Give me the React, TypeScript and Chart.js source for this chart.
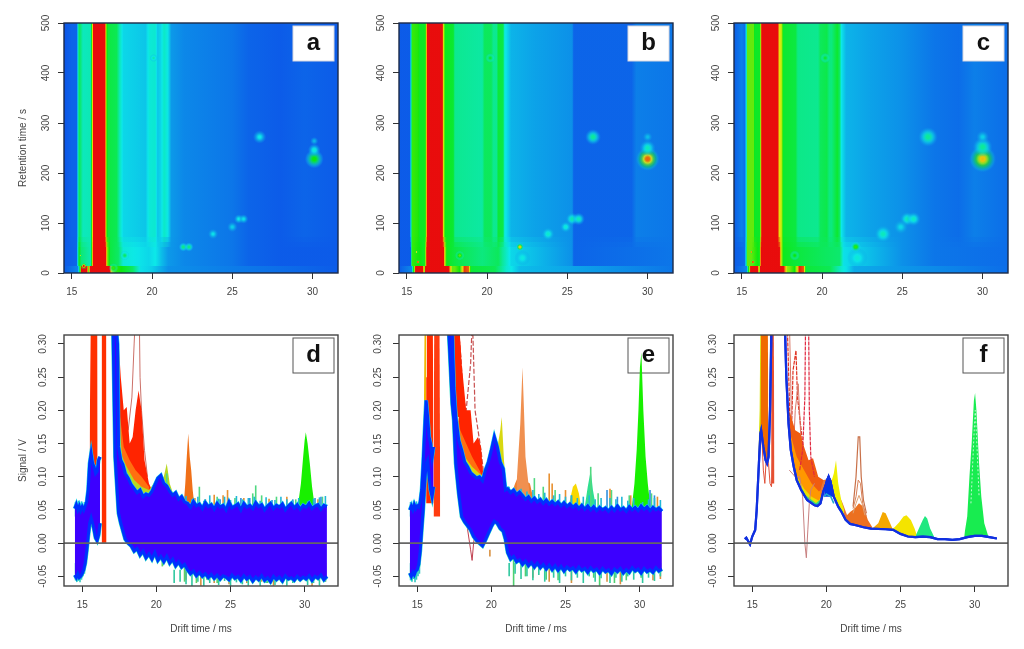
import { useEffect, useRef } from 'react';
import { Chart, registerables } from 'chart.js';

Chart.register(...registerables);
Chart.defaults.font.family = '"Liberation Sans", Arial, sans-serif';
Chart.defaults.font.size = 10;
Chart.defaults.color = '#444';

const retentionTicks = [0, 100, 200, 300, 400, 500];
const driftTicks = [15, 20, 25, 30];
const signalTicks = [-0.05, 0, 0.05, 0.1, 0.15, 0.2, 0.25, 0.3];

// heat map columns: intensity 0-100 at drift time stops, for the upper, lower and very first part of each run
const heatDriftA = [14.5, 15.0, 15.3, 15.38, 15.45, 15.55, 15.7, 16.2, 16.28, 16.34, 17.08, 17.14, 17.25, 17.8, 18.0, 18.2, 19.6, 19.85, 20.2, 20.35, 20.55, 20.75, 20.95, 21.2, 22, 25, 26, 28, 29.5, 31.6];
const heatA = [8, 10, 10, 22, 42, 38, 30, 31, 70, 100, 100, 65, 44, 42, 30, 23, 21, 27, 28, 21, 23, 29, 26, 16, 14, 12, 10, 9, 10, 9];
const lowDriftA = [14.5, 15.3, 15.38, 15.45, 15.6, 16.2, 16.28, 16.32, 17.13, 17.2, 17.4, 17.9, 18.2, 19.8, 20.2, 20.6, 21.0, 22, 25, 26, 28, 31.6];
const lowA = [9, 10, 25, 50, 38, 31, 70, 100, 100, 65, 44, 40, 27, 23, 25, 20, 16, 14, 12, 10, 9, 9];
const baseDriftA = [14.5, 15.4, 15.55, 15.6, 15.95, 16.05, 16.15, 17.35, 17.5, 17.7, 18.2, 18.8, 19.3, 20, 21, 31.6];
const baseA = [9, 14, 60, 100, 100, 60, 100, 100, 70, 55, 48, 40, 24, 22, 15, 9];

const heatDriftB = [14.5, 15.2, 15.28, 15.35, 15.72, 15.8, 16.15, 16.22, 16.26, 17.22, 17.3, 17.4, 17.9, 18.0, 19.7, 19.85, 20.25, 20.4, 20.6, 20.7, 21.0, 21.1, 21.5, 23, 25.3, 25.4, 29, 29.3, 31.6];
const heatB = [9, 9, 30, 55, 52, 47, 47, 72, 100, 100, 70, 48, 46, 35, 33, 41, 41, 35, 35, 45, 43, 26, 19, 17, 15, 10, 10, 13, 12];
const lowDriftB = [14.5, 15.25, 15.33, 15.6, 16.1, 16.2, 16.24, 17.3, 17.38, 17.5, 18.0, 18.6, 19.7, 20.7, 21, 21.5, 22.5, 25.3, 25.4, 31.6];
const lowB = [9, 9, 55, 52, 46, 72, 100, 100, 70, 48, 44, 41, 37, 41, 33, 23, 21, 15, 10, 12];
const baseDriftB = [14.5, 15.3, 15.5, 15.55, 16.0, 16.1, 16.15, 17.6, 17.85, 18.0, 18.3, 18.6, 18.85, 19, 20.5, 21.2, 22, 31.6];
const baseB = [9, 14, 70, 100, 100, 60, 100, 100, 60, 60, 50, 95, 90, 45, 42, 28, 20, 12];

const heatDriftC = [14.5, 15.0, 15.2, 15.3, 15.36, 15.75, 15.8, 16.12, 16.2, 16.24, 17.26, 17.32, 17.5, 17.58, 18.35, 18.5, 19.75, 19.9, 20.3, 20.45, 20.6, 20.95, 21.1, 21.2, 21.5, 23, 25, 27, 28.5, 29.5, 31.6];
const heatC = [9, 13, 11, 30, 60, 60, 47, 47, 75, 100, 100, 78, 68, 46, 44, 36, 35, 41, 43, 37, 37, 46, 40, 25, 19, 17, 15, 12, 11, 13, 11];
const lowDriftC = [14.5, 15.2, 15.3, 15.36, 15.6, 16.1, 16.15, 16.2, 17.35, 17.45, 17.6, 18.6, 20, 21.1, 21.35, 22.6, 25, 27, 31.6];
const lowC = [9, 11, 35, 60, 60, 47, 75, 100, 100, 72, 48, 44, 41, 39, 24, 21, 15, 12, 11];
const baseDriftC = [14.5, 15.3, 15.5, 15.55, 16.0, 16.1, 16.15, 17.6, 17.85, 18.0, 18.3, 18.6, 18.85, 19, 20.5, 21.2, 22, 31.6];
const baseC = [9, 14, 70, 100, 100, 60, 100, 100, 65, 62, 50, 98, 92, 45, 42, 28, 18, 11];

// peaks on the heat maps: drift, retention, peak intensity, peak half width in ms
const spotDriftA = [30.1, 30.1, 30.1, 26.7, 21.95, 22.3, 23.8, 25, 25.4, 25.7, 20.1, 18.3, 15.75, 17.6, 15.55];
const spotRetA = [228, 246, 264, 272, 52, 52, 78, 92, 108, 108, 430, 35, 14, 10, 35];
const spotPeakA = [50, 27, 19, 25, 36, 36, 24, 22, 25, 24, 31, 40, 100, 55, 70];
const spotWidthA = [0.6, 0.4, 0.25, 0.42, 0.3, 0.3, 0.32, 0.32, 0.3, 0.3, 0.25, 0.3, 0.22, 0.3, 0.1];

const spotDriftB = [30, 30, 30, 26.6, 22.05, 22.2, 23.8, 25.3, 25.7, 24.9, 20.2, 18.3, 15.7, 15.6];
const spotRetB = [228, 250, 272, 272, 52, 30, 78, 108, 108, 92, 430, 35, 22, 42];
const spotPeakB = [90, 30, 20, 34, 80, 26, 28, 31, 30, 27, 46, 60, 100, 90];
const spotWidthB = [0.75, 0.5, 0.3, 0.5, 0.26, 0.5, 0.42, 0.4, 0.4, 0.36, 0.3, 0.3, 0.16, 0.1];

const spotDriftC = [30, 30, 30, 26.6, 22.1, 22.2, 23.8, 25.3, 25.7, 24.9, 20.2, 18.3, 15.7, 15.6];
const spotRetC = [228, 252, 272, 272, 52, 30, 78, 108, 108, 92, 430, 35, 22, 42];
const spotPeakC = [80, 34, 22, 34, 54, 27, 30, 30, 29, 23, 46, 50, 100, 95];
const spotWidthC = [0.85, 0.62, 0.4, 0.62, 0.36, 0.65, 0.55, 0.45, 0.45, 0.45, 0.32, 0.32, 0.18, 0.12];

// noise band of the raw spectra, shared drift grid after 22 ms
const tailDrift = [22.1, 22.3, 22.5, 22.7, 22.9, 23.1, 23.3, 23.5, 23.7, 23.9, 24.1, 24.3, 24.5, 24.7, 24.9, 25.1, 25.3, 25.5, 25.7, 25.9, 26.1, 26.3, 26.5, 26.7, 26.9, 27.1, 27.3, 27.5, 27.7, 27.9, 28.1, 28.3, 28.5, 28.7, 28.9, 29.1, 29.3, 29.5, 29.7, 29.9, 30.1, 30.3, 30.5, 30.7, 30.9, 31.1, 31.3, 31.5];

const driftD = [14.5, 14.6, 14.7, 14.8, 14.9, 15.0, 15.1, 15.2, 15.3, 15.4, 15.5, 15.6, 15.7, 15.8, 15.9, 16.0, 16.1, 16.2, 16.26, 17.05, 17.08, 17.22, 17.38, 17.45, 17.6, 17.75, 17.9, 18.1, 18.3, 18.5, 18.7, 18.9, 19.1, 19.3, 19.5, 19.7, 19.9, 20.1, 20.3, 20.5, 20.7, 20.9, 21.1, 21.3, 21.5, 21.7, 21.9, ...tailDrift];
const upperD = [0.052, 0.058, 0.05, 0.056, 0.049, 0.055, 0.05, 0.056, 0.062, 0.08, 0.12, 0.135, 0.12, 0.115, 0.105, 0.108, 0.125, 0.13, null, null, 0.34, 0.34, 0.3, 0.145, 0.125, 0.118, 0.105, 0.098, 0.088, 0.082, 0.076, 0.08, 0.07, 0.074, 0.072, 0.078, 0.088, 0.098, 0.102, 0.09, 0.086, 0.078, 0.072, 0.076, 0.066, 0.07, 0.062,
  0.06, 0.054, 0.063, 0.056, 0.059, 0.052, 0.061, 0.055, 0.058, 0.051,
  0.06, 0.054, 0.057, 0.05, 0.062, 0.053, 0.056, 0.059, 0.05, 0.06,
  0.054, 0.057, 0.052, 0.061, 0.055, 0.058, 0.05, 0.056, 0.06, 0.052,
  0.057, 0.054, 0.059, 0.05, 0.056, 0.06, 0.053, 0.058, 0.051, 0.057,
  0.054, 0.06, 0.052, 0.056, 0.058, 0.051, 0.057, 0.055];
const lowerD = [-0.048, -0.052, -0.046, -0.052, -0.05, -0.046, -0.04, -0.03, -0.012, 0.01, 0.03, 0.038, 0.03, 0.02, 0.008, 0.004, 0.012, 0.03, null, null, 0.32, 0.13, 0.07, 0.045, 0.03, 0.018, 0.006, 0, -0.004, -0.012, -0.008, -0.018, -0.012, -0.022, -0.016, -0.024, -0.014, -0.026, -0.02, -0.028, -0.02, -0.03, -0.024, -0.034, -0.028, -0.036, -0.032,
  -0.04, -0.046, -0.042, -0.049, -0.044, -0.05, -0.046, -0.052, -0.047, -0.053,
  -0.048, -0.054, -0.049, -0.051, -0.055, -0.048, -0.053, -0.05, -0.056, -0.049,
  -0.054, -0.05, -0.057, -0.051, -0.055, -0.049, -0.056, -0.052, -0.058, -0.05,
  -0.055, -0.051, -0.057, -0.049, -0.054, -0.052, -0.056, -0.05, -0.055, -0.051,
  -0.054, -0.049, -0.056, -0.05, -0.053, -0.048, -0.055, -0.05];

const driftE = [14.5, 14.6, 14.7, 14.8, 14.9, 15.0, 15.1, 15.2, 15.3, 15.4, 15.5, 15.6, 15.7, 15.8, 15.9, 16.0, 16.1, 16.15, 17.1, 17.12, 17.2, 17.36, 17.47, 17.6, 17.8, 18.0, 18.2, 18.4, 18.6, 18.8, 19.0, 19.2, 19.4, 19.6, 19.8, 20.0, 20.2, 20.4, 20.6, 20.8, 20.95, 21.1, 21.3, 21.5, 21.7, 21.9, ...tailDrift];
const upperE = [0.05, 0.056, 0.05, 0.058, 0.052, 0.056, 0.054, 0.062, 0.08, 0.12, 0.17, 0.215, 0.19, 0.16, 0.15, 0.13, 0.145, null, null, 0.34, 0.34, 0.32, 0.235, 0.19, 0.155, 0.14, 0.122, 0.115, 0.106, 0.102, 0.098, 0.1, 0.094, 0.11, 0.122, 0.14, 0.16, 0.145, 0.122, 0.112, 0.08, 0.082, 0.076, 0.08, 0.073, 0.077,
  0.072, 0.066, 0.07, 0.063, 0.068, 0.062, 0.066, 0.06, 0.065, 0.059,
  0.063, 0.058, 0.062, 0.056, 0.061, 0.055, 0.059, 0.054, 0.058, 0.052,
  0.057, 0.051, 0.056, 0.05, 0.055, 0.049, 0.054, 0.05, 0.053, 0.048,
  0.054, 0.049, 0.056, 0.05, 0.053, 0.048, 0.055, 0.05, 0.054, 0.049,
  0.056, 0.051, 0.055, 0.049, 0.054, 0.05, 0.053, 0.048];
const lowerE = [-0.045, -0.05, -0.044, -0.048, -0.042, -0.04, -0.032, -0.012, 0.02, 0.05, 0.09, 0.12, 0.125, 0.1, 0.08, 0.07, 0.085, null, null, 0.32, 0.285, 0.21, 0.185, 0.12, 0.075, 0.04, 0.032, 0.026, 0.02, 0.01, 0.004, 0, -0.004, 0.005, 0.015, 0.025, 0.033, 0.03, 0.022, 0.018, 0.006, -0.014, -0.024, -0.02, -0.028, -0.025,
  -0.032, -0.027, -0.034, -0.029, -0.036, -0.03, -0.037, -0.032, -0.039, -0.033,
  -0.04, -0.034, -0.041, -0.035, -0.042, -0.036, -0.04, -0.037, -0.043, -0.036,
  -0.041, -0.038, -0.044, -0.037, -0.042, -0.039, -0.045, -0.038, -0.043, -0.04,
  -0.046, -0.039, -0.043, -0.038, -0.045, -0.04, -0.044, -0.037, -0.042, -0.039,
  -0.045, -0.038, -0.043, -0.04, -0.044, -0.037, -0.042, -0.039];

// panel d peaks
const redLeftDriftD = [15.5, 15.58, 16.02, 16.04];
const redLeftD = [0.16, 0.34, 0.34, 0.1];
const redMidDriftD = [16.28, 16.32, 16.62, 16.64];
const redMidD = [0, 0.34, 0.34, 0];
const redRightDriftD = [17.35, 17.6, 17.8, 18.0, 18.2, 18.4, 18.6, 18.8, 19.0, 19.2, 19.5, 19.8];
const redRightD = [0.34, 0.25, 0.2, 0.205, 0.15, 0.16, 0.2, 0.23, 0.2, 0.125, 0.09, 0.075];
const orangeDriftD = [17.4, 17.5, 17.8, 18.2, 18.6, 19.0, 19.5];
const orangeD = [0.3, 0.2, 0.145, 0.125, 0.11, 0.1, 0.085];
const yellowDriftD = [17.4, 17.7, 18, 18.5, 19, 19.5, 20, 20.5, 20.7, 20.9, 21.2];
const yellowD = [0.2, 0.13, 0.115, 0.095, 0.085, 0.08, 0.095, 0.1, 0.12, 0.09, 0.07];
const orangeSpikeDriftD = [21.85, 21.95, 22.05, 22.15, 22.25, 22.35, 22.45, 22.55];
const orangeSpikeD = [0.06, 0.09, 0.13, 0.165, 0.13, 0.11, 0.08, 0.06];
const greenPeakDriftD = [29.45, 29.6, 29.75, 29.9, 30.0, 30.08, 30.2, 30.35, 30.5, 30.65, 30.8];
const greenPeakD = [0.05, 0.065, 0.09, 0.13, 0.155, 0.167, 0.15, 0.12, 0.085, 0.06, 0.05];
const paleTraceDriftD = [18.1, 18.35, 18.5, 18.58, 18.85, 18.9, 19.0, 19.2, 19.4];
const paleTraceD = [0.17, 0.22, 0.3, 0.34, 0.34, 0.25, 0.2, 0.14, 0.1];

// single scans sticking out of the band
const fringeDrift = [21.2, 21.6, 22.0, 22.4, 22.8, 23.2, 23.6, 24.2, 24.6, 25.0, 25.4, 25.8, 26.2, 26.6, 27.0, 27.4, 28.0, 28.4, 28.8, 29.2, 29.6, 30.2, 30.6, 31.0, 31.4];
const fringeUpD = [0.072, 0.068, 0.071, 0.066, 0.07, 0.064, 0.072, 0.067, 0.07, 0.065, 0.071, 0.066, 0.068, 0.07, 0.064, 0.069, 0.065, 0.07, 0.066, 0.064, 0.068, 0.063, 0.067, 0.069, 0.071];
const fringeDownD = [-0.06, -0.058, -0.062, -0.066, -0.058, -0.064, -0.06, -0.063, -0.057, -0.065, -0.059, -0.062, -0.064, -0.057, -0.065, -0.06, -0.063, -0.058, -0.064, -0.06, -0.057, -0.063, -0.06, -0.064, -0.058];
const fringeUpE = [0.085, 0.08, 0.082, 0.078, 0.08, 0.074, 0.076, 0.072, 0.074, 0.07, 0.072, 0.068, 0.07, 0.072, 0.066, 0.068, 0.068, 0.066, 0.07, 0.064, 0.068, 0.062, 0.066, 0.068, 0.065];
const fringeDownE = [-0.05, -0.046, -0.054, -0.05, -0.056, -0.048, -0.058, -0.052, -0.06, -0.05, -0.056, -0.052, -0.06, -0.05, -0.058, -0.053, -0.06, -0.052, -0.058, -0.05, -0.055, -0.06, -0.052, -0.057, -0.05];
const leftFringeDrift = [14.55, 14.65, 14.75, 14.85, 14.95, 15.05, 15.15, 15.25];
const leftFringeUp = [0.062, 0.058, 0.064, 0.06, 0.063, 0.058, 0.062, 0.066];
const leftFringeDown = [-0.056, -0.058, -0.054, -0.059, -0.055, -0.05, -0.046, -0.03];

const greenUpDriftD = [22.9, 26.7, 26.5, 27.1, 31.2, 20.7, 24.1, 25.3, 28.1, 29.4];
const greenUpD = [0.085, 0.087, 0.075, 0.072, 0.07, 0.105, 0.07, 0.068, 0.07, 0.066];
const orangeUpDriftD = [23.9, 24.5, 24.8, 28.8, 22.6, 25.9, 27.6, 23.3, 30.9];
const orangeUpD = [0.073, 0.072, 0.08, 0.07, 0.068, 0.068, 0.067, 0.066, 0.066];
const cyanUpDriftD = [31.1, 29.2, 25.7, 27.8, 23.3, 30.7, 24.3, 26.3];
const cyanUpD = [0.07, 0.066, 0.068, 0.065, 0.066, 0.068, 0.066, 0.068];
const greenDownDriftD = [20.4, 21.9, 23.4, 24.1, 25, 26.6, 28.5, 29.3, 30.9, 22.7, 27.5];
const greenDownD = [-0.035, -0.058, -0.055, -0.06, -0.057, -0.058, -0.06, -0.058, -0.056, -0.06, -0.06];
const orangeDownDriftD = [22, 23, 24.9, 27.1, 27.9, 30.5, 31.4, 23.9, 26.1];
const orangeDownD = [-0.055, -0.064, -0.062, -0.058, -0.064, -0.066, -0.058, -0.06, -0.06];

// panel e peaks
const yellowLeftDriftE = [15.35, 15.45, 15.5, 15.62];
const yellowLeftE = [0.12, 0.2, 0.34, 0.34];
const redLeftDriftE = [15.6, 15.65, 16.05, 16.1];
const redLeftE = [0.25, 0.34, 0.34, 0.1];
const redMidDriftE = [16.1, 16.15, 16.5, 16.55];
const redMidE = [0.1, 0.34, 0.34, 0.05];
const redTopDriftE = [17.4, 17.8, 17.95];
const redTopE = [0.34, 0.34, 0.28];
const redRightDriftE = [17.8, 18.0, 18.3, 18.6, 18.8, 19.1, 19.3, 19.5, 19.8];
const redRightE = [0.34, 0.27, 0.2, 0.2, 0.15, 0.16, 0.145, 0.09, 0.08];
const orangeDriftE = [17.7, 17.9, 18.3, 18.7, 19.2, 19.5];
const orangeE = [0.2, 0.17, 0.15, 0.13, 0.11, 0.095];
const yellowDriftE = [17.75, 18.2, 18.7, 19.2, 19.5, 20.3, 20.45, 20.6, 20.7, 20.85, 21.0];
const yellowE = [0.16, 0.13, 0.115, 0.105, 0.1, 0.15, 0.15, 0.17, 0.19, 0.125, 0.085];
const orangeBaseDriftE = [21.3, 21.6, 21.8, 22.6, 22.8];
const orangeBaseE = [0.07, 0.09, 0.1, 0.09, 0.07];
const orangeSpikeDriftE = [21.7, 21.95, 22.1, 22.2, 22.3, 22.45, 22.6];
const orangeSpikeE = [0.09, 0.18, 0.265, 0.2, 0.13, 0.1, 0.07];
const yellowBumpDriftE = [25.2, 25.5, 25.7, 25.9, 26.05];
const yellowBumpE = [0.055, 0.085, 0.09, 0.075, 0.055];
const tealBumpDriftE = [26.3, 26.5, 26.7, 26.85, 27.05];
const tealBumpE = [0.055, 0.085, 0.11, 0.08, 0.055];
const greenPeakDriftE = [29.45, 29.65, 29.8, 29.92, 30.02, 30.12, 30.25, 30.4, 30.55, 30.75];
const greenPeakE = [0.05, 0.09, 0.14, 0.2, 0.265, 0.287, 0.2, 0.13, 0.09, 0.05];
const paleTraceDriftE = [17.7, 17.95, 18.1, 18.3, 18.6, 18.72, 18.9, 19.1, 19.3, 19.5];
const paleTraceE = [0.34, 0.28, 0.22, 0.2, 0.27, 0.34, 0.2, 0.17, 0.14, 0.1];
const dipTraceDriftE = [18.2, 18.4, 18.6, 18.7, 18.8, 19, 19.2];
const dipTraceE = [0.05, 0.02, -0.01, -0.026, 0, 0.03, 0.04];

const greenUpDriftE = [22.9, 23.5, 26.7, 28.1, 29.3, 24.3, 27.2, 30.8];
const greenUpE = [0.098, 0.085, 0.115, 0.08, 0.072, 0.08, 0.075, 0.075];
const orangeUpDriftE = [23.9, 24.1, 25.0, 28.0, 29.4, 31.2];
const orangeUpE = [0.105, 0.09, 0.08, 0.082, 0.072, 0.07];
const cyanUpDriftE = [27.8, 28.5, 25.4, 30.7, 31.0];
const cyanUpE = [0.08, 0.07, 0.072, 0.08, 0.072];
const greenDownDriftE = [21.5, 22.3, 23.7, 24.5, 26.9, 27.3, 28.3, 29.1, 30.1];
const greenDownE = [-0.065, -0.05, -0.055, -0.056, -0.052, -0.064, -0.06, -0.056, -0.052];
const orangeDownDriftE = [19.9, 22.8, 23.9, 25.4, 27.8, 28.7, 30.9, 31.4];
const orangeDownE = [-0.01, -0.052, -0.058, -0.06, -0.058, -0.062, -0.056, -0.054];

// panel f, averaged spectra
const coreDriftF = [14.5, 14.6, 14.7, 14.85, 15, 15.2, 15.3, 15.45, 15.55, 15.6, 15.75, 15.9, 16.0, 16.1, 16.2, 16.3, 16.4, 17.15, 17.2, 17.3, 17.45, 17.6, 17.8, 18, 18.3, 18.7, 19.2, 19.4, 19.6, 19.8, 20, 20.15, 20.3, 20.5, 20.8, 21, 21.3, 21.6, 22, 22.5, 23, 24, 24.5, 25, 25.5, 26, 26.5, 27, 27.5, 28, 28.5, 29, 29.5, 30, 30.5, 31, 31.5];
const coreF = [0.006, 0.008, 0.004, -0.002, 0.01, 0.02, 0.05, 0.12, 0.165, 0.17, 0.145, 0.125, 0.12, 0.13, 0.2, 0.33, null, null, 0.33, 0.25, 0.18, 0.14, 0.115, 0.095, 0.08, 0.065, 0.057, 0.056, 0.06, 0.078, 0.09, 0.1, 0.09, 0.07, 0.055, 0.048, 0.035, 0.029, 0.027, 0.024, 0.022, 0.021, 0.02, 0.014, 0.01, 0.009, 0.01, 0.009, 0.006, 0.006, 0.005, 0.006, 0.009, 0.011, 0.011, 0.009, 0.007];
const yellowTopDriftF = [15.4, 15.5, 15.55, 15.65];
const yellowTopF = [0.12, 0.2, 0.34, 0.34];
const orangeTopDriftF = [15.55, 15.6, 16.05, 16.1];
const orangeTopF = [0.15, 0.34, 0.34, 0.1];
const redTopDriftF = [16.15, 16.2, 16.45, 16.5];
const redTopF = [0.09, 0.34, 0.34, 0.09];
const fanRedDriftF = [17.5, 17.9, 18.25, 18.5, 18.8, 19.1, 19.45, 19.8, 20.5];
const fanRedF = [0.2, 0.17, 0.165, 0.145, 0.125, 0.128, 0.1, 0.095, 0.095];
const fanOrangeDriftF = [17.5, 18, 18.5, 19, 19.5, 19.9];
const fanOrangeF = [0.17, 0.13, 0.11, 0.09, 0.078, 0.085];
const fanYellowDriftF = [17.4, 17.9, 18.5, 19, 19.5, 19.8];
const fanYellowF = [0.155, 0.105, 0.082, 0.07, 0.064, 0.08];
const fanGreenDriftF = [17.3, 17.7, 18, 18.6, 19.3, 19.6];
const fanGreenF = [0.19, 0.125, 0.098, 0.072, 0.06, 0.066];
const shoulderDriftF = [19.6, 19.8, 20.3, 20.7, 21.1, 21.4, 21.7];
const shoulderF = [0.08, 0.095, 0.097, 0.08, 0.06, 0.042, 0.03];
const yellowPeakDriftF = [20.3, 20.5, 20.65, 20.8, 21, 21.2];
const yellowPeakF = [0.09, 0.105, 0.125, 0.09, 0.065, 0.05];
const orangeBaseDriftF = [21.3, 21.6, 21.9, 22.2, 22.5, 22.8, 23.1];
const orangeBaseF = [0.04, 0.047, 0.052, 0.06, 0.055, 0.035, 0.024];
const amberPeakDriftF = [23.1, 23.5, 23.8, 24, 24.3, 24.5];
const amberPeakF = [0.022, 0.03, 0.047, 0.045, 0.03, 0.02];
const yellowWideDriftF = [24.3, 24.6, 24.9, 25.2, 25.4, 25.7, 25.95, 26.1];
const yellowWideF = [0.02, 0.024, 0.031, 0.04, 0.042, 0.035, 0.022, 0.012];
const tealPeakDriftF = [26, 26.3, 26.5, 26.65, 26.8, 27, 27.3];
const tealPeakF = [0.01, 0.025, 0.035, 0.041, 0.037, 0.022, 0.008];
const greenPeakDriftF = [29.3, 29.5, 29.65, 29.8, 29.95, 30.03, 30.12, 30.3, 30.45, 30.65, 30.9];
const greenPeakF = [0.012, 0.04, 0.1, 0.15, 0.215, 0.226, 0.2, 0.12, 0.07, 0.03, 0.012];
const greenInnerDriftF = [29.75, 29.95, 30.04, 30.15, 30.3];
const greenInnerF = [0.06, 0.16, 0.2, 0.15, 0.07];
const brownPeakDriftF = [21.8, 22.0, 22.15, 22.25, 22.35, 22.5, 22.7];
const brownPeakF = [0.055, 0.1, 0.16, 0.16, 0.1, 0.065, 0.045];
const orangePeakDriftF = [21.8, 22.0, 22.15, 22.3, 22.45, 22.7];
const orangePeakF = [0.052, 0.07, 0.095, 0.09, 0.06, 0.04];
const orangeLowDriftF = [21.8, 22.0, 22.2, 22.4, 22.6];
const orangeLowF = [0.045, 0.06, 0.072, 0.06, 0.042];
const blobDriftF = [19.85, 20.0, 20.15, 20.3, 20.5];
const blobF = [0.08, 0.096, 0.102, 0.095, 0.072];
const blobLowF = [0.07, 0.074, 0.072, 0.07, 0.06];
const dipDriftF = [17.5, 17.9, 18.2, 18.4, 18.55, 18.65, 18.75, 18.85, 18.95, 19.2];
const dipF = [0.11, 0.1, 0.1, 0.07, 0, -0.022, 0.02, 0.06, 0.08, 0.09];
const spikeDriftF = [18.2, 18.4, 18.55, 18.6, 18.8, 18.85, 18.95, 19.2];
const spikeF = [0.11, 0.14, 0.22, 0.34, 0.34, 0.2, 0.13, 0.1];
const upperRedDriftF = [17.35, 17.5, 17.6, 17.75, 17.95, 18.05, 18.25, 18.5];
const upperRedF = [0.34, 0.22, 0.12, 0.26, 0.29, 0.22, 0.18, 0.13];
const upperPaleDriftF = [17.5, 17.6, 17.7, 17.9, 18.1, 18.3];
const upperPaleF = [0.34, 0.24, 0.1, 0.2, 0.24, 0.15];
const leftDropDriftF = [15.65, 15.75, 15.85, 15.95, 16.1, 16.2, 16.3, 16.4];
const leftDropF = [0.16, 0.11, 0.09, 0.13, 0.12, 0.09, 0.085, 0.14];

const toPoints = (xs: number[], ys: (number | null)[]) => xs.map((x, i) => ({ x, y: ys[i] }));

const rainbow = (v: number, alpha = 1) => `hsla(${240 - 2.4 * v},90%,48%,${alpha})`;

const heatStrip = (xs: number[], vs: number[], top: number, bottom: number, alpha = 1) => ({
  type: 'line',
  data: [{ x: xs[0], y: top }, { x: xs[xs.length - 1], y: top }],
  borderWidth: 0,
  pointRadius: 0,
  fill: { value: bottom },
  backgroundColor: (ctx: any) => {
    const x = ctx.chart.scales.x;
    if (!x || !ctx.chart.chartArea) return rainbow(10, alpha);
    const x0 = x.getPixelForValue(xs[0]);
    const x1 = x.getPixelForValue(xs[xs.length - 1]);
    if (!isFinite(x0) || !isFinite(x1)) return rainbow(10, alpha);
    const grad = ctx.chart.ctx.createLinearGradient(x0, 0, x1, 0);
    const span = xs[xs.length - 1] - xs[0];
    xs.forEach((d, i) => {
      if (i === xs.length - 1) {
        grad.addColorStop(1, rainbow(vs[i], alpha));
        return;
      }
      // extra stops so the colour walks through the hues
      for (let k = 0; k < 5; k++) {
        const t = k / 5;
        grad.addColorStop((d + (xs[i + 1] - d) * t - xs[0]) / span, rainbow(vs[i] + (vs[i + 1] - vs[i]) * t, alpha));
      }
    });
    return grad;
  },
});

const spotLayer = (xs: number[], ys: number[], peaks: number[], widths: number[]) => ({
  type: 'line',
  showLine: false,
  data: toPoints(xs, ys),
  pointBorderWidth: 0,
  pointRadius: (ctx: any) => {
    const x = ctx.chart.scales.x;
    const i = ctx.dataIndex;
    if (!x || !ctx.chart.chartArea || i === undefined) return 0;
    return Math.abs(x.getPixelForValue(xs[i] + widths[i]) - x.getPixelForValue(xs[i])) || 0;
  },
  pointBackgroundColor: (ctx: any) => {
    const { x, y } = ctx.chart.scales;
    const i = ctx.dataIndex;
    if (!x || !y || !ctx.chart.chartArea || i === undefined) return 'transparent';
    const px = x.getPixelForValue(xs[i]);
    const py = y.getPixelForValue(ys[i]);
    const r = Math.abs(x.getPixelForValue(xs[i] + widths[i]) - px);
    if (!isFinite(px) || !isFinite(py) || !isFinite(r)) return 'transparent';
    const grad = ctx.chart.ctx.createRadialGradient(px, py, 0, px, py, r);
    for (let k = 0; k <= 6; k++) {
      const t = k / 6;
      const v = peaks[i] + (16 - peaks[i]) * Math.max(0, (t - 0.15) / 0.85);
      grad.addColorStop(t, rainbow(v, Math.min(1, (1 - t) * 1.3)));
    }
    return grad;
  },
});

const heatLayers = (hd: number[], h: number[], ld: number[], l: number[], bd: number[], b: number[], sd: number[], sr: number[], sp: number[], sw: number[]) => [
  heatStrip(hd, h, 500, 0),
  heatStrip(ld, l, 72, 62, 0.35),
  heatStrip(ld, l, 62, 52, 0.7),
  heatStrip(ld, l, 52, 12),
  heatStrip(bd, b, 14, 0),
  spotLayer(sd, sr, sp, sw),
];

const area = (xs: number[], ys: number[], color: string, floor = 0) => ({
  type: 'line',
  data: toPoints(xs, ys),
  borderWidth: 0,
  pointRadius: 0,
  fill: { value: floor },
  backgroundColor: color,
});

const trace = (xs: number[], ys: (number | null)[], color: string, width = 1, dash: number[] = []) => ({
  type: 'line',
  data: toPoints(xs, ys),
  borderColor: color,
  borderWidth: width,
  borderDash: dash,
  pointRadius: 0,
  fill: false,
});

const spikes = (xs: number[], tips: number[], color: string, from: number) => ({
  type: 'bar',
  data: xs.map((x, i) => ({ x, y: [from, tips[i]] })),
  backgroundColor: color,
  barThickness: 1.6,
  grouped: false,
  inflateAmount: 0,
});

const band = (xs: number[], up: (number | null)[], low: (number | null)[]) => [
  trace(xs, up, '#19d8e8', 4),
  trace(xs, low, '#19d8c8', 4),
  { ...trace(xs, up, '#0030ff', 3), fill: '+1', backgroundColor: '#3c00ff' },
  trace(xs, low, '#0030ff', 3),
];

const zeroLine = trace([13, 33], [0, 0], '#666', 1.6);

const layersD = [
  area(redLeftDriftD, redLeftD, '#ff3000', 0.08),
  area(redMidDriftD, redMidD, '#ff3000', 0),
  trace(paleTraceDriftD, paleTraceD, '#cc7068', 1),
  area(redRightDriftD, redRightD, '#ff2400', 0.07),
  area(orangeDriftD, orangeD, '#ff7010', 0.07),
  area(yellowDriftD, yellowD, '#b8d820', 0.06),
  area(orangeSpikeDriftD, orangeSpikeD, '#f07018', 0.04),
  area(greenPeakDriftD, greenPeakD, '#18f000', 0.04),
  spikes(greenUpDriftD, greenUpD, '#50d880', 0.05),
  spikes(orangeUpDriftD, orangeUpD, '#e89030', 0.05),
  spikes(cyanUpDriftD, cyanUpD, '#3090e0', 0.05),
  spikes(greenDownDriftD, greenDownD, '#60d060', -0.02),
  spikes(orangeDownDriftD, orangeDownD, '#d89040', -0.03),
  spikes(fringeDrift, fringeUpD, '#20b8d8', 0.05),
  spikes(fringeDrift, fringeDownD, '#30c8a0', -0.04),
  spikes(leftFringeDrift, leftFringeUp, '#20b8d8', 0.04),
  spikes(leftFringeDrift, leftFringeDown, '#30c8c0', -0.03),
  ...band(driftD, upperD, lowerD),
  zeroLine,
];

const layersE = [
  area(yellowLeftDriftE, yellowLeftE, '#f0b800', 0.08),
  area(redLeftDriftE, redLeftE, '#ff2c00', 0.06),
  area(redMidDriftE, redMidE, '#ff3c10', 0.04),
  trace(paleTraceDriftE, paleTraceE, '#c85050', 1.2, [5, 2]),
  area(redTopDriftE, redTopE, '#ff2400', 0.19),
  area(redRightDriftE, redRightE, '#ff2400', 0.1),
  area(orangeDriftE, orangeE, '#ff7010', 0.09),
  area(yellowDriftE, yellowE, '#d8d810', 0.08),
  area(orangeBaseDriftE, orangeBaseE, '#f08030', 0.05),
  area(orangeSpikeDriftE, orangeSpikeE, '#f09050', 0.05),
  area(yellowBumpDriftE, yellowBumpE, '#f8d800', 0.04),
  area(tealBumpDriftE, tealBumpE, '#30e090', 0.04),
  area(greenPeakDriftE, greenPeakE, '#18f000', 0.04),
  trace(dipTraceDriftE, dipTraceE, '#c04050', 1),
  spikes(greenUpDriftE, greenUpE, '#50d880', 0.05),
  spikes(orangeUpDriftE, orangeUpE, '#e89030', 0.05),
  spikes(cyanUpDriftE, cyanUpE, '#3090e0', 0.05),
  spikes(greenDownDriftE, greenDownE, '#50d070', -0.02),
  spikes(orangeDownDriftE, orangeDownE, '#d89040', -0.02),
  spikes(fringeDrift, fringeUpE, '#20b8d8', 0.05),
  spikes(fringeDrift, fringeDownE, '#30c8a0', -0.03),
  spikes(leftFringeDrift, leftFringeUp, '#20b8d8', 0.04),
  spikes(leftFringeDrift, leftFringeDown, '#30c8c0', -0.03),
  ...band(driftE, upperE, lowerE),
  zeroLine,
];

const layersF = [
  area(yellowTopDriftF, yellowTopF, '#d8e000', 0.1),
  area(orangeTopDriftF, orangeTopF, '#f06a00', 0.1),
  area(redTopDriftF, redTopF, '#e85030', 0.09),
  trace(upperRedDriftF, upperRedF, '#e03020', 1.2, [4, 1]),
  trace(upperPaleDriftF, upperPaleF, '#d87868', 1),
  area(fanRedDriftF, fanRedF, '#f05c10', 0.02),
  area(fanOrangeDriftF, fanOrangeF, '#ff9800', 0.02),
  area(fanYellowDriftF, fanYellowF, '#e8e000', 0.02),
  area(fanGreenDriftF, fanGreenF, '#30d880', 0.02),
  area(shoulderDriftF, shoulderF, '#e87838', 0),
  area(yellowPeakDriftF, yellowPeakF, '#f0f000', 0),
  area(orangeBaseDriftF, orangeBaseF, '#ec7020', 0),
  area(amberPeakDriftF, amberPeakF, '#f4a800', 0),
  area(yellowWideDriftF, yellowWideF, '#f4e400', 0),
  area(tealPeakDriftF, tealPeakF, '#20e880', 0),
  area(greenPeakDriftF, greenPeakF, '#18ec50', 0),
  trace(greenInnerDriftF, greenInnerF, '#c0f8d0', 1, [2, 2]),
  { ...trace(coreDriftF, coreF, '#1030e0', 2.2), fill: { value: -0.07 }, backgroundColor: '#ffffff' },
  trace(leftDropDriftF, leftDropF, '#e05038', 1),
  trace(brownPeakDriftF, brownPeakF, '#c87048', 1.2),
  trace(orangePeakDriftF, orangePeakF, '#d88058', 1),
  trace(orangeLowDriftF, orangeLowF, '#e0a070', 1),
  trace(dipDriftF, dipF, '#c88080', 1),
  trace(spikeDriftF, spikeF, '#e02840', 1.2, [4, 1]),
  { ...trace(blobDriftF, blobF, '#0038e8', 1), fill: { value: 0.07 }, backgroundColor: '#0038e8' },
  { ...trace(blobDriftF, blobLowF, '#20a8d0', 1.6) },
  trace(coreDriftF, coreF, '#1030e0', 2.2),
  zeroLine,
];

type PanelDef = {
  letter: string;
  left: number;
  top: number;
  width: number;
  height: number;
  xRange: number[];
  yRange: number[];
  yTicks: number[];
  yFormat: (v: number) => string;
  xTitle?: string;
  yTitle?: string;
  boxOnTop: boolean;
  layers: any[];
};

const plotTopA = 23;
const plotTopD = 335;
const plotW = 274;
const rowTop = { xRange: [14.52, 31.58], yRange: [0, 500], yTicks: retentionTicks, yFormat: (v: number) => String(v), boxOnTop: true, top: plotTopA, width: plotW, height: 250 };
const rowBottom = { xRange: [13.77, 32.25], yRange: [-0.0645, 0.3135], yTicks: signalTicks, yFormat: (v: number) => v.toFixed(2), boxOnTop: false, top: plotTopD, width: plotW, height: 251, xTitle: 'Drift time / ms' };

const panels: PanelDef[] = [
  { ...rowTop, letter: 'a', left: 64, yTitle: 'Retention time / s', layers: heatLayers(heatDriftA, heatA, lowDriftA, lowA, baseDriftA, baseA, spotDriftA, spotRetA, spotPeakA, spotWidthA) },
  { ...rowTop, letter: 'b', left: 398.5, layers: heatLayers(heatDriftB, heatB, lowDriftB, lowB, baseDriftB, baseB, spotDriftB, spotRetB, spotPeakB, spotWidthB) },
  { ...rowTop, letter: 'c', left: 734, layers: heatLayers(heatDriftC, heatC, lowDriftC, lowC, baseDriftC, baseC, spotDriftC, spotRetC, spotPeakC, spotWidthC) },
  { ...rowBottom, letter: 'd', left: 64, yTitle: 'Signal / V', layers: layersD },
  { ...rowBottom, letter: 'e', left: 398.5, layers: layersE },
  { ...rowBottom, letter: 'f', left: 734, layers: layersF },
];

const PAD_TOP = 10;
const PAD_RIGHT = 4;
const AXIS_LEFT = 64;

function drawLetterBox(chart: any, letter: string, edge: string) {
  const { ctx, chartArea: a } = chart;
  ctx.save();
  ctx.fillStyle = '#fff';
  ctx.strokeStyle = edge;
  ctx.lineWidth = 1;
  ctx.fillRect(a.right - 45, a.top + 3, 41, 35);
  ctx.strokeRect(a.right - 45, a.top + 3, 41, 35);
  ctx.fillStyle = '#111';
  ctx.font = 'bold 24px "Liberation Sans", Arial, sans-serif';
  ctx.textAlign = 'center';
  ctx.textBaseline = 'middle';
  ctx.fillText(letter, a.right - 24.5, a.top + 20);
  ctx.restore();
}

function Panel({ def }: { def: PanelDef }) {
  const ref = useRef<HTMLCanvasElement>(null);
  const canvasH = def.xTitle ? 633 - (def.top - PAD_TOP) : 305 - (def.top - PAD_TOP);

  useEffect(() => {
    if (!ref.current) return;
    const n = def.layers.length;
    const fixedPadding = (s: any) => {
      s.paddingTop = 0;
      s.paddingBottom = 0;
      s.paddingLeft = 0;
      s.paddingRight = 0;
    };
    const chart = new Chart(ref.current, {
      type: 'line',
      data: { datasets: def.layers.map((d, i) => ({ ...d, order: n - i })) },
      options: {
        responsive: false,
        animation: false,
        events: [],
        layout: { padding: { top: PAD_TOP, right: PAD_RIGHT, left: 0, bottom: 0 } },
        plugins: { legend: { display: false }, tooltip: { enabled: false } },
        scales: {
          x: {
            type: 'linear',
            offset: false,
            min: def.xRange[0],
            max: def.xRange[1],
            afterBuildTicks: (s: any) => { s.ticks = driftTicks.map((value) => ({ value })); },
            afterFit: (s: any) => { s.height = canvasH - PAD_TOP - def.height; fixedPadding(s); },
            ticks: { autoSkip: false, maxRotation: 0, padding: 7, color: '#444' },
            grid: { offset: false, drawOnChartArea: false, tickLength: 6, color: '#333' },
            border: { display: false },
            title: { display: !!def.xTitle, text: def.xTitle, color: '#444', padding: { top: 0, bottom: -2 } },
          },
          y: {
            type: 'linear',
            min: def.yRange[0],
            max: def.yRange[1],
            afterBuildTicks: (s: any) => { s.ticks = def.yTicks.map((value) => ({ value })); },
            afterFit: (s: any) => { s.width = AXIS_LEFT; fixedPadding(s); },
            ticks: {
              autoSkip: false,
              minRotation: 90,
              maxRotation: 90,
              crossAlign: 'center',
              padding: 3,
              color: '#444',
              callback: (v: any) => def.yFormat(Number(v)),
            },
            grid: { drawOnChartArea: false, tickLength: 6, color: '#333' },
            border: { display: false },
            title: { display: !!def.yTitle, text: def.yTitle, color: '#444', padding: { top: 17, bottom: 0 } },
          },
        },
      } as any,
      plugins: [{
        id: 'panelFrame',
        beforeDatasetsDraw(c: any) {
          if (!def.boxOnTop) drawLetterBox(c, def.letter, '#555');
        },
        afterDatasetsDraw(c: any) {
          if (def.boxOnTop) drawLetterBox(c, def.letter, '#d8d8e0');
          const { ctx, chartArea: a } = c;
          ctx.save();
          ctx.strokeStyle = def.boxOnTop ? '#1c2a48' : '#444';
          ctx.lineWidth = 1.4;
          ctx.strokeRect(a.left, a.top, a.right - a.left, a.bottom - a.top);
          ctx.restore();
        },
      }],
    } as any);
    return () => chart.destroy();
  }, [def, canvasH]);

  return (
    <canvas
      ref={ref}
      width={def.width + AXIS_LEFT + PAD_RIGHT}
      height={canvasH}
      style={{
        position: 'absolute',
        left: def.left - AXIS_LEFT,
        top: def.top - PAD_TOP,
        width: def.width + AXIS_LEFT + PAD_RIGHT,
        height: canvasH,
        filter: 'blur(0.6px)',
      }}
    />
  );
}

export default function App() {
  return (
    <div style={{ position: 'absolute', left: 0, top: 0, width: 1024, height: 649, background: '#fff', overflow: 'hidden' }}>
      {panels.map((def) => <Panel key={def.letter} def={def} />)}
    </div>
  );
}
